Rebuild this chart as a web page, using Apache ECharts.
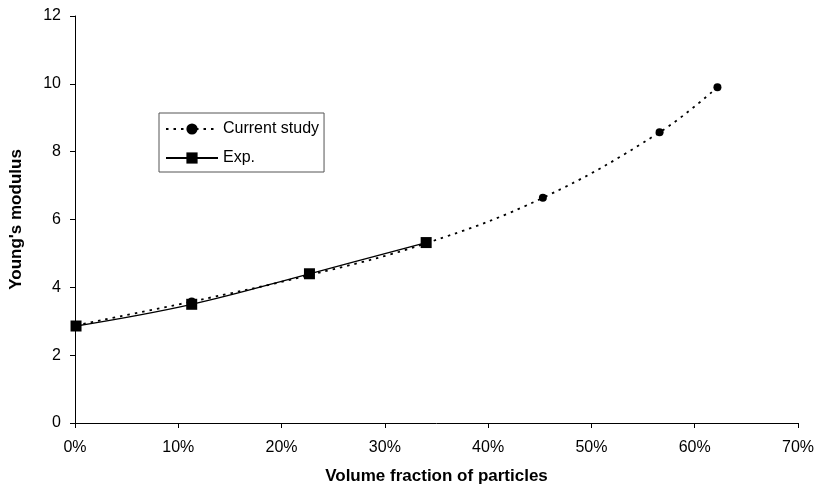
<!DOCTYPE html>
<html>
<head>
<meta charset="utf-8">
<script src="https://cdn.jsdelivr.net/npm/echarts@6/dist/echarts.min.js"></script>
<style>html,body{margin:0;padding:0;background:#fff;}#c{width:817px;height:490px;}</style>
</head>
<body>
<div id="c"></div>
<script>
const xCurrent = [0.1, 11.3, 22.7, 34.0, 45.3, 56.6, 62.2];
const yCurrent = [2.88, 3.58, 4.36, 5.30, 6.64, 8.57, 9.90];
const xExp = [0.1, 11.3, 22.7, 34.0];
const yExp = [2.86, 3.50, 4.40, 5.32];
const xTicks = [0, 10, 20, 30, 40, 50, 60, 70];
const yTicks = [0, 2, 4, 6, 8, 10, 12];

const pair = (xs, ys) => xs.map((x, i) => [x, ys[i]]);
const font = 'Liberation Sans, Arial, sans-serif';

const chart = echarts.init(document.getElementById('c'), null, {renderer: 'canvas'});
chart.setOption({
  animation: false,
  backgroundColor: '#fff',
  grid: {left: 68.5, right: 18.3, top: 16, bottom: 67, containLabel: false},
  xAxis: {
    type: 'value', min: xTicks[0], max: xTicks[xTicks.length - 1], interval: 10,
    name: 'Volume fraction of particles', nameLocation: 'middle', nameGap: 45,
    nameTextStyle: {fontFamily: font, fontSize: 17, fontWeight: 'bold', color: '#000'},
    axisLine: {show: true, lineStyle: {color: '#000', width: 1}},
    axisTick: {show: true, length: 5, lineStyle: {color: '#000'}},
    axisLabel: {formatter: '{value}%', fontFamily: font, fontSize: 16, color: '#000', margin: 17},
    splitLine: {show: false}
  },
  yAxis: {
    type: 'value', min: yTicks[0], max: yTicks[yTicks.length - 1], interval: 2,
    name: "Young's modulus", nameLocation: 'middle', nameGap: 50,
    nameTextStyle: {fontFamily: font, fontSize: 17, fontWeight: 'bold', color: '#000'},
    axisLine: {show: true, lineStyle: {color: '#000', width: 1}},
    axisTick: {show: true, length: 5, lineStyle: {color: '#000'}},
    axisLabel: {fontFamily: font, fontSize: 16, color: '#000', margin: 14},
    splitLine: {show: false}
  },
  legend: {
    left: 159, top: 113, orient: 'vertical',
    backgroundColor: '#fff', borderColor: '#555', borderWidth: 1,
    padding: [8, 5, 6, 6], itemGap: 13, itemWidth: 52, itemHeight: 14,
    textStyle: {fontFamily: font, fontSize: 16, color: '#000'},
    data: ['Current study', 'Exp.']
  },
  series: [
    {
      name: 'Current study', type: 'line', smooth: 0.4,
      data: pair(xCurrent, yCurrent),
      symbol: 'circle', symbolSize: 8,
      itemStyle: {color: '#000'},
      lineStyle: {color: '#000', width: 1.8, type: [2.5, 5]}
    },
    {
      name: 'Exp.', type: 'line', smooth: 0.4,
      data: pair(xExp, yExp),
      symbol: 'rect', symbolSize: 11,
      itemStyle: {color: '#000'},
      lineStyle: {color: '#000', width: 1.3, type: 'solid'}
    }
  ]
});
</script>
</body>
</html>
